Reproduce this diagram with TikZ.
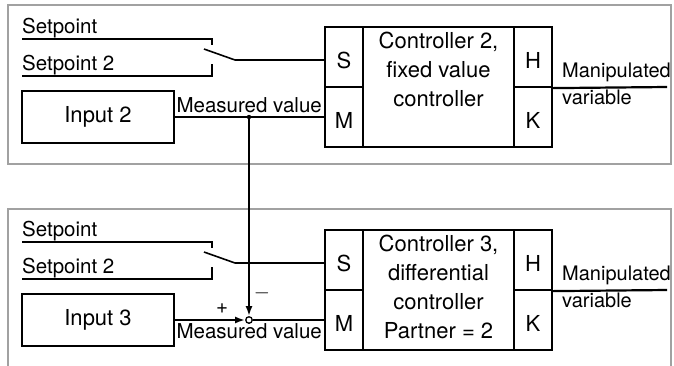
\documentclass[tikz,border=0pt]{standalone}
\usepackage{fontspec}
\setmainfont{TeX Gyre Heros}
\usepackage{tikz}
\usetikzlibrary{arrows.meta}
\tikzset{
  wire/.style={line width=2.2pt},
  frame/.style={line width=2pt,black!37},
  cell/.style={draw,line width=2.2pt,inner sep=0pt,minimum width=38pt,minimum height=60pt,
    text height=22pt,text depth=0pt,font=\fontsize{22}{29}\selectfont},
  inbox/.style={draw,line width=2.2pt,minimum width=152pt,minimum height=52pt,
    font=\fontsize{22}{29}\selectfont},
  ctrltext/.style={anchor=north,align=center,inner sep=5.5pt,font=\fontsize{22}{29}\selectfont},
  lbl/.style={inner sep=0pt,font=\fontsize{20.5}{27}\selectfont}
}

\begin{document}
\begin{tikzpicture}[x=1pt,y=-1pt,>={Latex[length=10pt,width=7pt]}]
  \useasboundingbox (0,0) rectangle (674,365);
  % frames
  \draw[frame] (8,5) rectangle (671,164);
  \draw[frame] (8,380) |- (671,209) -- (671,380);
  % parts both controllers share
  \foreach \n/\dy in {2/0,3/203}{
    \begin{scope}[shift={(0,\dy)}]
      \node[lbl,anchor=base west] (sp\n) at (22,33) {Setpoint};
      \node[lbl,anchor=base west] (spb\n) at (22,70) {Setpoint 2};
      \draw[wire] (22,39) -- (212,39) -- (212,45);
      \draw[wire] (22,76) -- (212,76) -- (212,64);
      \coordinate (sw\n) at (235,60);
      \node[inbox] (in\n) at (98,117) {Input \n};
      \node[cell] (s\n) at (344,57) {S};
      \node[cell] (m\n) at (344,117) {M};
      \node[draw,line width=2.2pt,minimum width=151pt,minimum height=120pt] (c\n) at (438.5,87) {};
      \node[cell] (h\n) at (533,57) {H};
      \node[cell] (k\n) at (533,117) {K};
      \draw[wire,line width=1.6pt] (204,49) -- (sw\n);
      \draw[wire] (sw\n) -- (sw\n -| s\n.west);
      \coordinate (out\n) at (667,87);
      \draw[wire] (h\n.south east) -- (out\n);
      \node[lbl,anchor=base west,font=\fontsize{20}{27}\selectfont] (mv\n) at (562,77) {Manipulated};
      \node[lbl,anchor=base west,font=\fontsize{20}{27}\selectfont] (var\n) at (562,104) {variable};
    \end{scope}
  }
  \node[ctrltext] (t2) at (c2.north) {Controller 2,\\fixed value\\controller};
  \node[ctrltext] (t3) at (c3.north) {Controller 3,\\differential\\controller\\Partner = 2};
  % measured value, controller 2
  \draw[wire] (in2.east) -- (m2.west);
  \node[lbl,anchor=base east] (meas2) at (322,112) {Measured value};
  \fill (249,117) circle (2.2pt) coordinate (tap);
  % summing point, controller 3
  \node[draw,circle,line width=1.3pt,minimum size=6.5pt,inner sep=0pt] (sum) at (249,320) {};
  \draw[wire,->] (tap) -- (sum.north);
  \draw[wire,->] (in3.east) -- (sum.west);
  \draw[wire] (sum.east) -- (m3.west);
  \node[lbl] (plus) at (222,309) {+};
  \node[lbl] (minus) at (262,293) {$-$};
  \node[lbl,anchor=base east] (meas3) at (322,338) {Measured value};
\end{tikzpicture}
\end{document}
